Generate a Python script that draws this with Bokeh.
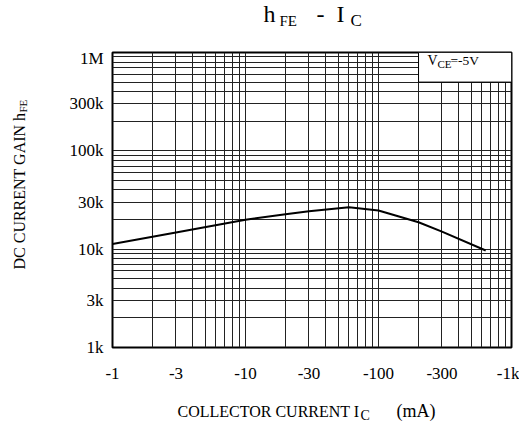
import math
from bokeh.plotting import figure
from bokeh.models import FixedTicker, Label
from bokeh.layouts import row, column
from bokeh.embed import file_html
from bokeh.resources import INLINE

# ---- data ----
ic_ma = [1, 3, 10, 20, 30, 60, 100, 200, 300, 640]
hfe = [11300, 14800, 19900, 22700, 24300, 26700, 24700, 18800, 15100, 9700]

x_ticks = [1, 3, 10, 30, 100, 300, 1000]
x_tick_labels = ["-1", "-3", "-10", "-30", "-100", "-300", "-1k"]
y_ticks = [1e3, 3e3, 1e4, 3e4, 1e5, 3e5, 1e6]
y_tick_labels = ["1k", "3k", "10k", "30k", "100k", "300k", "1M"]

x_grid = [m * 10 ** d for d in range(0, 3) for m in range(1, 10)] + [1000]
y_grid = [m * 10 ** d for d in range(3, 6) for m in range(1, 10)] + [1e6]

FONT = "Liberation Serif"
BASE_FIX = 0.3       # baseline correction (fraction of font size)

# page geometry
LEFT_W = 44          # width of the y-label strip
TOP_H = 48           # height of the title strip
BOT_H = 35           # height of the x-label strip
TOTAL_W, TOTAL_H = 519, 427
MAIN_W = TOTAL_W - LEFT_W
MAIN_H = TOTAL_H - TOP_H - BOT_H
FL, FR, FT, FB = 112, 511, 52, 347   # plot frame in page pixels


def text_fig(w, h):
    f = figure(width=w, height=h, x_range=(0, 1), y_range=(0, 1),
               output_backend="svg", toolbar_location=None,
               x_axis_location=None, y_axis_location=None, min_border=0)
    f.grid.visible = False
    f.outline_line_color = None
    f.background_fill_color = "white"
    f.border_fill_color = "white"
    return f


def lab(fig, text, sx, sy, size, angle=0.0):
    fig.add_layout(Label(x=sx, y=sy, x_units="screen", y_units="screen",
                         text=text, text_font=FONT, text_font_size=f"{size}px",
                         text_color="black", text_align="left",
                         text_baseline="alphabetic", angle=angle))


# ---- main plot ----
p = figure(width=MAIN_W, height=MAIN_H, x_axis_type="log", y_axis_type="log",
           x_range=(1, 1000), y_range=(1e3, 1e6),
           output_backend="svg", toolbar_location=None,
           min_border_left=FL - LEFT_W, min_border_right=TOTAL_W - FR,
           min_border_top=FT - TOP_H, min_border_bottom=TOP_H + MAIN_H - FB)
p.background_fill_color = "white"
p.border_fill_color = "white"
p.outline_line_color = "black"
p.outline_line_width = 2

for ax, ticks, labels in ((p.xaxis[0], x_ticks, x_tick_labels), (p.yaxis[0], y_ticks, y_tick_labels)):
    ax.ticker = FixedTicker(ticks=ticks)
    ax.major_label_overrides = {t: l for t, l in zip(ticks, labels)}
    ax.axis_line_color = None
    ax.major_tick_line_color = None
    ax.minor_tick_line_color = None
    ax.major_label_text_font = FONT
    ax.major_label_text_font_size = "17px"
    ax.major_label_text_color = "black"
p.xaxis.major_label_standoff = 10
p.yaxis.major_label_standoff = 3

p.xgrid.ticker = FixedTicker(ticks=x_grid)
p.ygrid.ticker = FixedTicker(ticks=y_grid)
for g in (p.xgrid, p.ygrid):
    g.grid_line_color = "#222222"
    g.grid_line_width = 1
    g.grid_line_alpha = 1.0

# condition box (top right)
p.quad(left=200, right=1000, bottom=5e5, top=1e6, fill_color="white",
       line_color="black", line_width=1)

p.line(ic_ma, hfe, line_color="black", line_width=2)

# condition text inside the frame (frame-relative screen units)
for txt, px, py, sz in (("V", 427, 64, 14), ("CE", 437, 67, 11), ("=-5V", 450, 64, 13.5)):
    lab(p, txt, px - FL, FB - py + BASE_FIX * sz, sz)

# ---- title strip (its frame is aligned with the main frame horizontally) ----
t = text_fig(MAIN_W, TOP_H)
for txt, px, py, sz in (("h", 263, 21, 24), ("FE", 279, 25, 15), ("-", 316, 21, 24),
                        ("I", 336, 21, 24), ("C", 350, 25, 17)):
    lab(t, txt, px - FL, TOP_H - py + BASE_FIX * sz, sz)

# ---- x-label strip ----
xb = text_fig(MAIN_W, BOT_H)
for txt, px, py, sz in (("COLLECTOR CURRENT I", 177, 416, 16), ("C", 360, 419, 14),
                        ("(mA)", 396, 416, 18)):
    lab(xb, txt, px - FL, TOTAL_H - py + BASE_FIX * sz, sz)

# ---- y-label strip (rotated text) ----
yl = text_fig(LEFT_W, TOTAL_H)
lab(yl, "DC CURRENT GAIN h", 24 - BASE_FIX * 16, TOTAL_H - 269, 16, angle=math.pi / 2)
lab(yl, "FE", 26 - BASE_FIX * 11, TOTAL_H - 112, 11, angle=math.pi / 2)

layout = row(yl, column(t, p, xb))
open("out.html", "w").write(file_html(layout, INLINE))
